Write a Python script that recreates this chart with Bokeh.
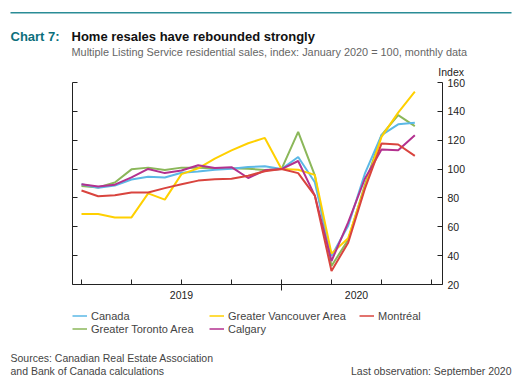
from bokeh.plotting import figure
from bokeh.models import (Range1d, LinearAxis, FixedTicker, Legend, LegendItem,
                          ColumnDataSource)
from bokeh.layouts import column
from bokeh.core.properties import value
from bokeh.embed import file_html
from bokeh.resources import INLINE

# ---------------- data ----------------
months = ["2019-01", "2019-02", "2019-03", "2019-04", "2019-05", "2019-06", "2019-07",
          "2019-08", "2019-09", "2019-10", "2019-11", "2019-12", "2020-01", "2020-02",
          "2020-03", "2020-04", "2020-05", "2020-06", "2020-07", "2020-08", "2020-09"]
canada = [89.5, 87.0, 88.6, 92.8, 94.6, 94.2, 97.5, 98.4, 99.5, 100.2, 101.4, 101.9,
          100.0, 108.4, 90.9, 39.7, 60.7, 96.8, 123.5, 131.0, 132.1]
vancouver = [68.8, 68.8, 66.5, 66.5, 83.2, 78.8, 96.5, 100.5, 107.2, 113.0, 117.9, 121.6,
             100.0, 99.5, 96.0, 41.4, 52.1, 87.4, 122.3, 139.1, 153.7]
montreal = [85.1, 81.2, 81.8, 83.7, 83.7, 86.8, 89.5, 92.0, 93.0, 93.3, 95.4, 98.5,
            100.0, 97.2, 81.6, 29.3, 49.0, 86.3, 117.7, 117.0, 109.1]
toronto = [88.2, 87.2, 90.7, 99.8, 101.0, 99.4, 101.0, 101.0, 100.5, 100.5, 100.3, 99.3,
           100.0, 125.8, 95.6, 32.8, 51.0, 89.0, 123.5, 137.4, 129.8]
calgary = [89.5, 87.9, 89.2, 94.2, 100.1, 97.2, 99.0, 102.6, 100.7, 101.3, 93.8, 99.1,
           100.0, 105.6, 81.6, 36.3, 63.0, 93.3, 113.5, 113.0, 123.5]

year_labels = {6: "2019", 16.5: "2020"}
quarter_ticks = [0, 3, 6, 9, 15, 18, 21]
year_ticks = [12]
y_ticks = [20, 40, 60, 80, 100, 120, 140, 160]

series = [
    ("Canada", canada, "#5BB8E6"),
    ("Greater Vancouver Area", vancouver, "#FFD000"),
    ("Montréal", montreal, "#D9443E"),
    ("Greater Toronto Area", toronto, "#8BB75A"),
    ("Calgary", calgary, "#B3318F"),
]
colors = {name: col for name, _, col in series}

FONT = "Liberation Sans"
W = 526
AXIS_COL = "#222222"
NAN = float("nan")


def blank_panel(height, top_y):
    f = figure(width=W, height=height, output_backend="svg", toolbar_location=None,
               x_range=Range1d(0, W), y_range=Range1d(top_y + height, top_y),
               x_axis_location=None, y_axis_location=None,
               min_border=0, min_border_left=0, min_border_right=0,
               min_border_top=0, min_border_bottom=0, frame_align=False)
    f.outline_line_color = None
    f.xgrid.visible = False
    f.ygrid.visible = False
    return f


def add_text(f, x, y, txt, size, color, bold=False, align="left"):
    f.text(x=[x], y=[y], text=[txt], text_font=value(FONT), text_font_size=size,
           text_font_style="bold" if bold else "normal", text_color=color,
           text_align=align, text_baseline="alphabetic")


# ---------------- header ----------------
HEAD_H = 77
head = blank_panel(HEAD_H, 0)
head.segment(x0=[10], y0=[12.3], x1=[511], y1=[12.3], line_color="#2A8C96", line_width=1.5)
add_text(head, 10, 35.7, "Chart 7:", "13px", "#0B6F7C", bold=True)
add_text(head, 71, 35.7, "Home resales have rebounded strongly", "13px", "#111111", bold=True)
add_text(head, 71, 51.7,
         "Multiple Listing Service residential sales, index: January 2020 = 100, monthly data",
         "10.9px", "#666666")
add_text(head, 463.5, 71, "Index", "10.5px", AXIS_COL, align="right")

# ---------------- main chart ----------------
MAIN_H = 229
x = list(range(len(months)))
p = figure(width=W, height=MAIN_H, output_backend="svg", toolbar_location=None,
           x_range=Range1d(-0.54, 21.66), y_range=Range1d(20, 160),
           y_axis_location="right", min_border_left=72, min_border_right=84,
           min_border_top=5, min_border_bottom=22, frame_align=False)
p.outline_line_color = None
p.xgrid.visible = False
p.ygrid.visible = False

xa = p.xaxis[0]
xa.ticker = FixedTicker(ticks=year_ticks, minor_ticks=quarter_ticks)
xa.major_tick_in = 5
xa.major_tick_out = 6
xa.minor_tick_in = 5
xa.minor_tick_out = 0
xa.major_label_overrides = {12: ""}
xa.major_label_text_font_size = "0px"
xa.major_label_standoff = 0
xa.axis_line_color = AXIS_COL
xa.major_tick_line_color = AXIS_COL
xa.minor_tick_line_color = AXIS_COL

xl = LinearAxis(ticker=FixedTicker(ticks=list(year_labels.keys()), minor_ticks=[]))
xl.major_label_overrides = year_labels
xl.major_tick_in = 0
xl.major_tick_out = 0
xl.minor_tick_line_color = None
xl.major_tick_line_color = None
xl.axis_line_color = None
xl.major_label_standoff = 0
xl.major_label_text_font = FONT
xl.major_label_text_font_size = "10.5px"
xl.major_label_text_color = AXIS_COL
p.add_layout(xl, "below")

ya = p.yaxis[0]
ya.ticker = FixedTicker(ticks=y_ticks, minor_ticks=[])
ya.major_tick_in = 5
ya.major_tick_out = 0
ya.minor_tick_line_color = None
ya.major_label_standoff = 5
ya.major_label_text_font = FONT
ya.major_label_text_font_size = "10.5px"
ya.major_label_text_color = AXIS_COL
ya.axis_line_color = AXIS_COL
ya.major_tick_line_color = AXIS_COL

la = LinearAxis(ticker=FixedTicker(ticks=y_ticks, minor_ticks=[]))
la.major_tick_in = 5
la.major_tick_out = 0
la.minor_tick_line_color = None
la.major_label_text_font_size = "0px"
la.major_label_standoff = 0
la.major_label_overrides = {t: "" for t in y_ticks}
la.axis_line_color = AXIS_COL
la.major_tick_line_color = AXIS_COL
p.add_layout(la, "left")

draw_order = ["Greater Toronto Area", "Canada", "Greater Vancouver Area", "Calgary", "Montréal"]
lookup = {name: vals for name, vals, _ in series}
for name in draw_order:
    src = ColumnDataSource(dict(x=x, y=lookup[name]))
    p.line("x", "y", source=src, line_color=colors[name], line_width=2)

# ---------------- footer ----------------
FOOT_TOP = HEAD_H + MAIN_H
FOOT_H = 376 - FOOT_TOP
foot = blank_panel(FOOT_H, FOOT_TOP)
dummy = {}
for name, _, col in series:
    dummy[name] = foot.line(x=[NAN, NAN], y=[NAN, NAN], line_color=col, line_width=1.5)

legend_cols = [(["Canada", "Greater Toronto Area"], 72),
               (["Greater Vancouver Area", "Calgary"], 209),
               (["Montréal"], 359)]
for names, vx in legend_cols:
    vy = 41 if len(names) == 2 else 54
    leg = Legend(items=[LegendItem(label=n, renderers=[dummy[n]]) for n in names],
                 location=(vx, vy), orientation="vertical",
                 background_fill_alpha=0, border_line_alpha=0,
                 padding=0, margin=0, spacing=0,
                 glyph_width=15, glyph_height=13, label_height=13, label_standoff=4,
                 label_text_font=FONT, label_text_font_size="11px",
                 label_text_color="#444444")
    foot.add_layout(leg)

add_text(foot, 10, 357.5, "Sources: Canadian Real Estate Association", "10.5px", "#444444")
add_text(foot, 10, 370.3, "and Bank of Canada calculations", "10.5px", "#444444")
add_text(foot, 511, 370.3, "Last observation: September 2020", "10.5px", "#444444", align="right")

layout = column(head, p, foot, spacing=0)
open("out.html", "w").write(file_html(layout, INLINE))
